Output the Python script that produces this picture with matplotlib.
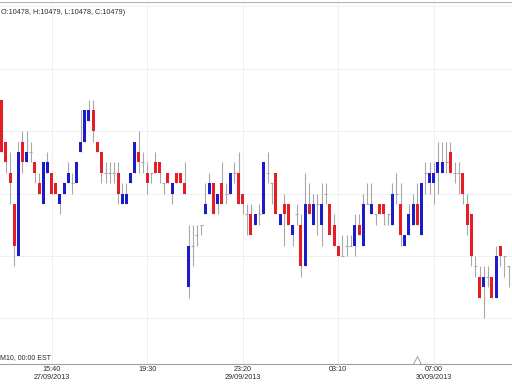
"""Ten-minute candlestick chart, 27-30/09/2013, in the style of a trading terminal."""
import matplotlib

matplotlib.use("Agg")
import matplotlib.pyplot as plt  # noqa: E402
import numpy as np  # noqa: E402

UP_COLOR = "#1B1BC9"
DOWN_COLOR = "#E41E26"
WICK_COLOR = "#A8A8A8"
GRID_COLOR = "#EDEDED"
TEXT_COLOR = "#2A2A2A"

OPEN = [10495, 10491, 10488, 10485, 10480, 10491, 10489, 10490, 10489, 10487,
        10485, 10488, 10488, 10487, 10485, 10486, 10487, 10487, 10487, 10490,
        10491, 10493, 10494, 10491, 10490, 10488, 10488, 10488, 10488, 10485,
        10485, 10487, 10488, 10490, 10489, 10488, 10488, 10489, 10489, 10487,
        10488, 10486, 10488, 10488, 10487, 10477, 10481, 10482, 10483, 10484,
        10486, 10487, 10485, 10487, 10486, 10486, 10488, 10488, 10486, 10484,
        10484, 10483, 10484, 10484, 10488, 10487, 10488, 10483, 10485, 10485,
        10482, 10484, 10483, 10479, 10485, 10483, 10485, 10483, 10486, 10485,
        10483, 10481, 10480, 10481, 10481, 10481, 10483, 10481, 10485, 10484,
        10484, 10485, 10485, 10484, 10483, 10486, 10485, 10481, 10482, 10483,
        10485, 10482, 10488, 10487, 10487, 10488, 10488, 10489, 10490, 10488,
        10488, 10488, 10485, 10484, 10479, 10478, 10477, 10478, 10478, 10476,
        10481, 10480, 10479]
HIGH = [10495, 10491, 10490, 10485, 10491, 10492, 10492, 10491, 10489, 10488,
        10489, 10490, 10488, 10487, 10486, 10487, 10489, 10488, 10489, 10494,
        10494, 10495, 10495, 10491, 10490, 10489, 10489, 10489, 10489, 10487,
        10487, 10488, 10491, 10492, 10490, 10489, 10488, 10490, 10489, 10487,
        10488, 10487, 10488, 10488, 10489, 10483, 10483, 10483, 10483, 10487,
        10488, 10487, 10486, 10489, 10487, 10488, 10489, 10490, 10486, 10485,
        10485, 10484, 10485, 10489, 10490, 10487, 10488, 10484, 10486, 10485,
        10483, 10485, 10484, 10488, 10487, 10486, 10486, 10487, 10487, 10485,
        10484, 10481, 10482, 10482, 10482, 10484, 10484, 10486, 10487, 10487,
        10484, 10485, 10485, 10484, 10487, 10488, 10487, 10482, 10485, 10486,
        10487, 10487, 10489, 10489, 10489, 10491, 10491, 10491, 10491, 10489,
        10489, 10488, 10486, 10484, 10480, 10479, 10479, 10479, 10478, 10481,
        10481, 10480, 10479]
LOW = [10490, 10488, 10485, 10479, 10480, 10488, 10489, 10489, 10487, 10486,
       10485, 10488, 10486, 10486, 10484, 10486, 10487, 10486, 10487, 10490,
       10491, 10493, 10491, 10490, 10487, 10487, 10487, 10487, 10485, 10485,
       10485, 10487, 10488, 10488, 10488, 10486, 10487, 10488, 10487, 10486,
       10487, 10485, 10487, 10487, 10486, 10476, 10479, 10481, 10482, 10484,
       10486, 10484, 10484, 10485, 10485, 10486, 10487, 10485, 10484, 10482,
       10482, 10483, 10483, 10484, 10487, 10485, 10484, 10483, 10481, 10483,
       10481, 10483, 10478, 10479, 10484, 10483, 10482, 10481, 10485, 10482,
       10481, 10480, 10480, 10480, 10481, 10480, 10482, 10481, 10485, 10484,
       10483, 10484, 10483, 10483, 10483, 10485, 10481, 10481, 10482, 10483,
       10483, 10482, 10486, 10486, 10485, 10486, 10488, 10488, 10488, 10487,
       10486, 10485, 10482, 10479, 10478, 10476, 10474, 10477, 10476, 10476,
       10479, 10478, 10477]
CLOSE = [10490, 10489, 10487, 10481, 10490, 10489, 10490, 10490, 10488, 10486,
         10489, 10489, 10486, 10486, 10486, 10487, 10488, 10487, 10489, 10491,
         10494, 10494, 10492, 10490, 10488, 10488, 10488, 10488, 10486, 10486,
         10486, 10488, 10491, 10489, 10489, 10487, 10488, 10488, 10488, 10487,
         10487, 10487, 10487, 10487, 10486, 10481, 10481, 10482, 10483, 10485,
         10487, 10484, 10486, 10485, 10486, 10488, 10488, 10485, 10485, 10484,
         10482, 10484, 10484, 10489, 10488, 10487, 10484, 10484, 10484, 10483,
         10483, 10484, 10479, 10485, 10484, 10485, 10485, 10485, 10486, 10482,
         10481, 10480, 10480, 10481, 10481, 10483, 10482, 10485, 10485, 10485,
         10484, 10484, 10484, 10484, 10486, 10486, 10482, 10482, 10484, 10485,
         10483, 10487, 10488, 10488, 10488, 10489, 10489, 10489, 10488, 10488,
         10488, 10486, 10483, 10480, 10479, 10476, 10478, 10478, 10476, 10480,
         10480, 10480, 10479]

TICK_BARS = [12, 35, 58, 81, 104]
TICK_LABELS = ["15:40\n27/09/2013", "19:30", "23:20\n29/09/2013",
               "03:10", "07:00\n30/09/2013"]
GRID_PRICES = [10474, 10480, 10486, 10492, 10498, 10504]
MARKER_BAR = 100
HEADER = "O:10478, H:10479, L:10478, C:10479)"
FOOTER = "M10, 00:00 EST"


def main() -> None:
    o = np.array(OPEN, dtype=float)
    h = np.array(HIGH, dtype=float)
    lo = np.array(LOW, dtype=float)
    c = np.array(CLOSE, dtype=float)
    x = np.arange(len(o))

    fig = plt.figure(figsize=(5.12, 3.84), dpi=100)
    ax = fig.add_axes([0, 20 / 384, 1, 362 / 384])
    ax.set_xlim(-0.41, 122.82)
    ax.set_ylim(10469.62, 10504.42)

    ax.vlines(x, lo, h, color=WICK_COLOR, linewidth=0.8, zorder=2)

    up = c > o
    down = c < o
    flat = c == o
    ax.bar(x[up], c[up] - o[up], bottom=o[up], width=0.72,
           color=UP_COLOR, linewidth=0, zorder=3)
    ax.bar(x[down], c[down] - o[down], bottom=o[down], width=0.72,
           color=DOWN_COLOR, linewidth=0, zorder=3)
    ax.hlines(o[flat], x[flat] - 0.36, x[flat] + 0.36,
              color=WICK_COLOR, linewidth=0.8, zorder=2)

    ax.set_xticks(TICK_BARS)
    ax.set_xticklabels(TICK_LABELS, fontsize=5.2, color=TEXT_COLOR,
                       family="Liberation Sans", linespacing=1.25)
    ax.set_yticks(GRID_PRICES)
    ax.tick_params(axis="x", length=0, pad=1.5)
    ax.tick_params(axis="y", left=False, labelleft=False)
    ax.grid(True, color=GRID_COLOR, linewidth=0.6)
    ax.set_axisbelow(True)

    for side in ("left", "right"):
        ax.spines[side].set_visible(False)
    ax.spines["top"].set_color("#B5B5B5")
    ax.spines["bottom"].set_color("#A0A0A0")
    ax.spines["top"].set_linewidth(0.8)
    ax.spines["bottom"].set_linewidth(0.8)

    ax.plot([MARKER_BAR], [0.012], marker="^", markersize=5.5,
            markerfacecolor="white", markeredgecolor="#A0A0A0",
            markeredgewidth=0.7, transform=ax.get_xaxis_transform(),
            clip_on=False, zorder=4)

    ax.text(0.002, 0.972, HEADER, transform=ax.transAxes, fontsize=5.2,
            color=TEXT_COLOR, family="Liberation Sans", va="center", ha="left")
    ax.text(0.0, 0.019, FOOTER, transform=ax.transAxes, fontsize=5.0,
            color=TEXT_COLOR, family="Liberation Sans", va="center", ha="left")

    fig.savefig("out.png", dpi=100)


if __name__ == "__main__":
    main()
